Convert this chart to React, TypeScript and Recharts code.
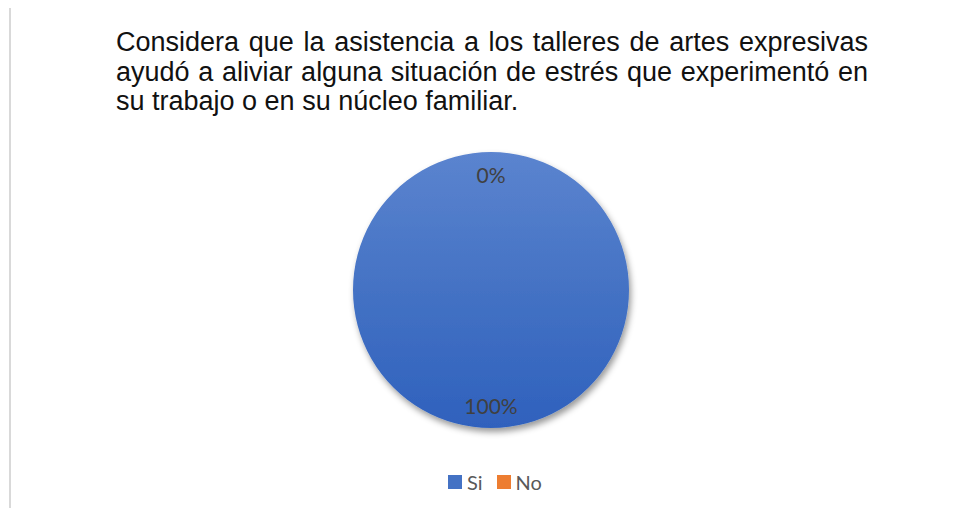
import React from 'react';
import { PieChart, Pie, Cell, Legend } from 'recharts';

const titleLines = [
    'Considera que la asistencia a los talleres de artes expresivas',
    'ayudó a aliviar alguna situación de estrés que experimentó en',
    'su trabajo o en su núcleo familiar.'
];

const categories = ['Si', 'No'];
const values = [100, 0];
const sliceColors = ['url(#siGradient)', '#ED7D31'];
const legendColors = ['#4472C4', '#ED7D31'];

const data = categories.map((name, i) => ({ name, value: values[i] }));

const RADIAN = Math.PI / 180;

const renderLabel = ({ cx, cy, midAngle, outerRadius, percent }: any) => {
    const r = outerRadius * 0.84;
    const x = cx + r * Math.cos(-midAngle * RADIAN);
    const y = cy + r * Math.sin(-midAngle * RADIAN);
    return (
        <text
            x={x}
            y={y}
            fill="#404040"
            textAnchor="middle"
            dominantBaseline="central"
            style={{ fontFamily: 'Lato, sans-serif', fontSize: 21 }}
        >
            {`${Math.round(percent * 100)}%`}
        </text>
    );
};

const LegendContent = ({ payload }: any) => {
    const items = [...(payload || [])].sort(
        (a: any, b: any) => categories.indexOf(a.value) - categories.indexOf(b.value)
    );
    return (
        <div style={{ display: 'flex', alignItems: 'center', fontFamily: 'Lato, sans-serif', fontSize: 20, color: '#595959' }}>
            {items.map((entry: any) => (
                <div key={entry.value} style={{ display: 'flex', alignItems: 'center', marginRight: 14 }}>
                    <span
                        style={{
                            width: 14,
                            height: 14,
                            background: legendColors[categories.indexOf(entry.value)],
                            display: 'inline-block',
                            marginRight: 5
                        }}
                    />
                    <span>{entry.value}</span>
                </div>
            ))}
        </div>
    );
};

export default function App() {
    return (
        <div style={{ position: 'relative', width: 959, height: 516, margin: -8, overflow: 'hidden', background: '#fff' }}>
            <div
                style={{
                    position: 'absolute',
                    left: 9,
                    top: 6,
                    width: 980,
                    height: 540,
                    border: '2px solid #D9D9D9',
                    boxSizing: 'border-box'
                }}
            />
            <div
                style={{
                    position: 'absolute',
                    left: 116,
                    top: 28,
                    width: 752,
                    fontFamily: '"Liberation Sans", Arial, sans-serif',
                    fontSize: 27,
                    lineHeight: '29.5px',
                    color: '#111'
                }}
            >
                {titleLines.map((line, i) => (
                    <div
                        key={i}
                        style={{
                            textAlign: 'justify',
                            textAlignLast: i < titleLines.length - 1 ? 'justify' : 'left',
                            whiteSpace: 'nowrap'
                        }}
                    >
                        {line}
                    </div>
                ))}
            </div>
            <div style={{ position: 'absolute', left: 0, top: 0 }}>
                <PieChart width={959} height={516} margin={{ top: 0, right: 0, bottom: 0, left: 0 }}>
                    <defs>
                        <linearGradient id="siGradient" x1="0" y1="0" x2="0" y2="1">
                            <stop offset="0%" stopColor="#5B84CF" />
                            <stop offset="50%" stopColor="#4472C4" />
                            <stop offset="100%" stopColor="#2F61BD" />
                        </linearGradient>
                        <filter id="pieShadow" x="-20%" y="-20%" width="140%" height="140%">
                            <feDropShadow dx="2" dy="4" stdDeviation="3" floodColor="#000" floodOpacity="0.4" />
                        </filter>
                    </defs>
                    <Pie
                        data={data}
                        dataKey="value"
                        nameKey="name"
                        cx={491}
                        cy={290}
                        outerRadius={138}
                        startAngle={90}
                        endAngle={-270}
                        stroke="none"
                        label={renderLabel}
                        labelLine={false}
                        isAnimationActive={false}
                    >
                        {data.map((entry, i) => (
                            <Cell key={entry.name} fill={sliceColors[i]} filter={i === 0 ? 'url(#pieShadow)' : undefined} />
                        ))}
                    </Pie>
                    <Legend
                        content={<LegendContent />}
                        wrapperStyle={{ left: 448, top: 470, width: 140, bottom: 'auto' }}
                    />
                </PieChart>
            </div>
        </div>
    );
}
